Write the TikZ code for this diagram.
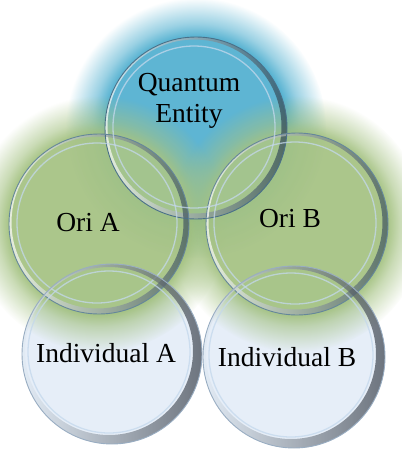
\documentclass[tikz,border=0pt]{standalone}
\usepackage{fontspec}
\setmainfont{Liberation Serif}
\usetikzlibrary{calc,fadings}

\pgfdeclareradialshading{glowshade}{\pgfpointorigin}{color(0bp)=(pgftransparent!0); color(17.5bp)=(pgftransparent!0); color(20bp)=(pgftransparent!40); color(25bp)=(pgftransparent!100); color(50bp)=(pgftransparent!100)}
\pgfdeclarefading{glowfade}{\pgfuseshading{glowshade}}

\definecolor{qeglow}{HTML}{56B2D1}
\definecolor{origlow}{HTML}{A0BF7C}
\definecolor{indfill}{HTML}{E6EEF8}
\definecolor{rimdark}{HTML}{3A414B}
\definecolor{rimblue}{HTML}{B4CCE4}
\definecolor{ringblue}{HTML}{C4D8EC}
\definecolor{qeedge}{HTML}{4A7088}
\definecolor{oriedge}{HTML}{65879A}

\begin{document}
\begin{tikzpicture}[x=1pt,y=-1pt]
\tikzset{
  glowqe/.style={fill=qeglow,path fading=glowfade},
  glowori/.style={fill=origlow,path fading=glowfade,fill opacity=0.93},
  indbody/.style={fill=indfill},
  glass/.style={fill=white,fill opacity=0.05},
  edgeline/.style={draw=#1,line width=0.9pt},
  innerring/.style={draw=ringblue,line width=1.3pt,draw opacity=0.75},
  darkrim/.style 2 args={even odd rule,left color=#1,middle color=#1,right color=#2,opacity=0.7},
  bubbletext/.style={font=\fontsize{27.5}{31}\selectfont,text=black,inner sep=0pt,align=center}
}
\useasboundingbox (0,0) rectangle (402,451);
% bubble centres
\coordinate (c_qe)   at (196,128);
\coordinate (c_oria) at (99,224);
\coordinate (c_orib) at (297,224);
\coordinate (c_inda) at (112,354);
\coordinate (c_indb) at (294,357);
% glows and bodies
\fill[glowqe] (c_qe) circle (130);
\fill[indbody] (c_inda) circle (90);
\fill[indbody] (c_indb) circle (91);
\fill[glowori] (c_oria) circle (128);
\fill[glowori] (c_orib) circle (128);
% glass of the upper bubbles
\fill[glass] (c_qe) circle (91);
\fill[glass] (c_oria) circle (90);
\fill[glass] (c_orib) circle (91);
\shade[darkrim={white}{qeedge!60!black}] (c_qe) circle (91) ($(c_qe)+(-1.5,-1.5)$) circle (87);
\shade[darkrim={white}{oriedge!60!black}] (c_oria) circle (90) ($(c_oria)+(-1.5,-1.5)$) circle (86);
\shade[darkrim={white}{oriedge!60!black}] (c_orib) circle (91) ($(c_orib)+(-1.5,-1.5)$) circle (87);
\draw[edgeline=qeedge] (c_qe) circle (91);
\draw[edgeline=oriedge] (c_oria) circle (90);
\draw[edgeline=oriedge] (c_orib) circle (91);
\draw[innerring] ($(c_qe)+(-2,-1)$) circle (81);
\draw[innerring] ($(c_oria)+(-2,-1)$) circle (80);
\draw[innerring] ($(c_orib)+(-2,-1)$) circle (81);
% glass of the lower bubbles
\shade[darkrim={rimblue!40!white}{rimdark}] (c_inda) circle (90) ($(c_inda)+(-3,-3)$) circle (84);
\shade[darkrim={rimblue!40!white}{rimdark}] (c_indb) circle (91) ($(c_indb)+(-3,-3)$) circle (85);
\draw[edgeline=rimblue!85!black] (c_inda) circle (90);
\draw[edgeline=rimblue!85!black] (c_indb) circle (91);
\draw[innerring] ($(c_inda)+(-3,-2)$) circle (81);
\draw[innerring] ($(c_indb)+(-3,-2)$) circle (82);
% texts
\node[bubbletext] (t_qe) at (189,101) {Quantum\\Entity};
\node[bubbletext,anchor=base] (t_oria) at (88,231) {Ori A};
\node[bubbletext,anchor=base] (t_orib) at (290,227) {Ori B};
\node[bubbletext,anchor=base] (t_inda) at (106,362) {Individual A};
\node[bubbletext,anchor=base] (t_indb) at (287,366) {Individual B};
\end{tikzpicture}
\end{document}
